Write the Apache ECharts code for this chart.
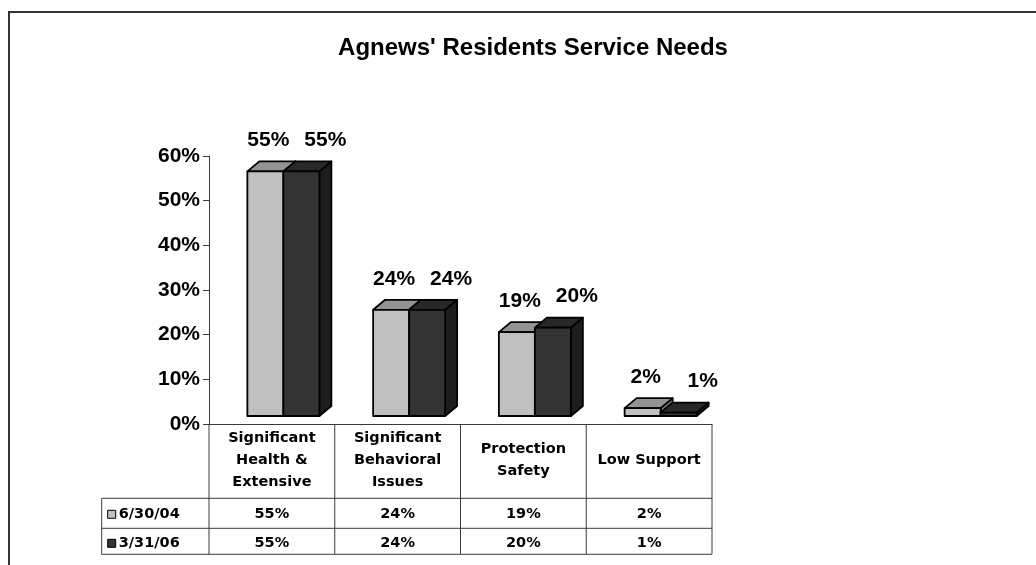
<!DOCTYPE html>
<html><head><meta charset="utf-8">
<script src="https://cdn.jsdelivr.net/npm/echarts@6/dist/echarts.min.js"></script>
<style>html,body{margin:0;padding:0;background:#fff}#c{width:1036px;height:565px}</style>
</head><body><div id="c"></div>
<script>
const chartTitle = "Agnews' Residents Service Needs";
const categories = ['Significant\nHealth &\nExtensive', 'Significant\nBehavioral\nIssues', 'Protection\nSafety', 'Low Support'];
const seriesNames = ['6/30/04', '3/31/06'];
const values0630 = [55, 24, 19, 2];
const values0331 = [55, 24, 20, 1];

const BAR_W = 36, DX = 12, DY = 10;
const FRONT = ['#c0c0c0', '#333333'];
const TOPC = ['#939393', '#282828'];
const SIDE = ['#7a7a7a', '#1d1d1d'];
const LABEL_SHIFT = [3, 24];
const TFONT = 'bold 14.5px "DejaVu Sans"';
const LINE = '#3a3a3a';

function barRender(s) {
  return function (params, api) {
    const i = api.value(0), v = api.value(1);
    const base = api.coord([i, 0]);
    const top = api.coord([i, v]);
    const x0 = base[0] - 24.5 + s * BAR_W;
    const yB = base[1] - 8;
    const yT = Math.min(top[1] - 7, yB - 2);
    const st = {stroke: '#000', lineWidth: 1.8, lineJoin: 'round'};
    return {
      type: 'group',
      children: [
        {type: 'polygon', shape: {points: [[x0 + BAR_W, yT], [x0 + BAR_W + DX, yT - DY], [x0 + BAR_W + DX, yB - DY], [x0 + BAR_W, yB]]},
          style: Object.assign({fill: SIDE[s]}, st)},
        {type: 'polygon', shape: {points: [[x0, yT], [x0 + DX, yT - DY], [x0 + BAR_W + DX, yT - DY], [x0 + BAR_W, yT]]},
          style: Object.assign({fill: TOPC[s]}, st)},
        {type: 'rect', shape: {x: x0, y: yT, width: BAR_W, height: yB - yT},
          style: Object.assign({fill: FRONT[s]}, st)},
        {type: 'text', style: {text: v + '%', x: x0 + BAR_W / 2 + LABEL_SHIFT[s], y: yT - 31,
          align: 'center', verticalAlign: 'middle', font: 'bold 21px "Liberation Sans", Arial', fill: '#000'}}
      ]
    };
  };
}

function tableRender(params, api) {
  const i = api.value(0);
  const c = api.coord([i, 0]);
  const band = api.size([1, 0])[0];
  const L = c[0] - band / 2, R = c[0] + band / 2, T = c[1];
  const r1 = T + 74.3, r2 = T + 104.3, r3 = T + 130.3;
  const ls = {stroke: LINE, lineWidth: 1};
  const ch = [
    {type: 'line', shape: {x1: R, y1: T, x2: R, y2: r3}, style: ls},
    {type: 'line', shape: {x1: L, y1: r1, x2: R, y2: r1}, style: ls},
    {type: 'line', shape: {x1: L, y1: r2, x2: R, y2: r2}, style: ls},
    {type: 'line', shape: {x1: L, y1: r3, x2: R, y2: r3}, style: ls},
    {type: 'text', style: {text: categories[i], x: c[0], y: T + 36, align: 'center', verticalAlign: 'middle',
      font: TFONT, lineHeight: 22, fill: '#000'}},
    {type: 'text', style: {text: values0630[i] + '%', x: c[0], y: (r1 + r2) / 2 + 1, align: 'center', verticalAlign: 'middle', font: TFONT, fill: '#000'}},
    {type: 'text', style: {text: values0331[i] + '%', x: c[0], y: (r2 + r3) / 2 + 2, align: 'center', verticalAlign: 'middle', font: TFONT, fill: '#000'}}
  ];
  if (i === 0) {
    const LL = L - 107.3;
    ch.push(
      {type: 'line', shape: {x1: L, y1: T, x2: L, y2: r3}, style: ls},
      {type: 'line', shape: {x1: LL, y1: r1, x2: L, y2: r1}, style: ls},
      {type: 'line', shape: {x1: LL, y1: r2, x2: L, y2: r2}, style: ls},
      {type: 'line', shape: {x1: LL, y1: r3, x2: L, y2: r3}, style: ls},
      {type: 'line', shape: {x1: LL, y1: r1, x2: LL, y2: r3}, style: ls}
    );
    const rowsY = [(r1 + r2) / 2 + 1, (r2 + r3) / 2 + 2];
    seriesNames.forEach(function (n, k) {
      ch.push({type: 'rect', shape: {x: LL + 6, y: rowsY[k] - 4, width: 8, height: 8}, style: {fill: FRONT[k], stroke: '#000', lineWidth: 1}});
      ch.push({type: 'text', style: {text: n, x: LL + 17, y: rowsY[k], align: 'left', verticalAlign: 'middle', font: TFONT, fill: '#000'}});
    });
  }
  return {type: 'group', children: ch};
}

const chart = echarts.init(document.getElementById('c'), null, {renderer: 'canvas'});
chart.setOption({
  animation: false,
  backgroundColor: '#fff',
  graphic: [
    {type: 'polyline', shape: {points: [[9, 565], [9, 12], [1036, 12]]}, style: {stroke: '#333', lineWidth: 2, fill: null}},
    {type: 'text', style: {text: chartTitle, x: 533, y: 48, align: 'center', verticalAlign: 'middle',
      font: 'bold 24px "Liberation Sans", Arial', fill: '#000'}}
  ],
  grid: {left: 209, right: 324, top: 156, bottom: 141, containLabel: false},
  xAxis: {type: 'category', data: categories, axisLine: {show: true, lineStyle: {color: LINE, width: 1}},
    axisTick: {show: false}, axisLabel: {show: false}, splitLine: {show: false}},
  yAxis: {type: 'value', min: 0, max: 60, interval: 10,
    axisLine: {show: true, lineStyle: {color: LINE, width: 1}},
    axisTick: {show: true, length: 6, lineStyle: {color: LINE}},
    splitLine: {show: false},
    axisLabel: {formatter: '{value}%', margin: 9, color: '#000', fontSize: 21, fontWeight: 'bold', fontFamily: '"Liberation Sans", Arial'}},
  series: [
    {type: 'custom', name: 'table', renderItem: tableRender, clip: false, z: 1,
      data: categories.map(function (c, i) { return [i, 0]; })},
    {type: 'custom', name: seriesNames[0], renderItem: barRender(0), clip: false, z: 2,
      data: values0630.map(function (v, i) { return [i, v]; })},
    {type: 'custom', name: seriesNames[1], renderItem: barRender(1), clip: false, z: 3,
      data: values0331.map(function (v, i) { return [i, v]; })}
  ]
});
</script></body></html>
